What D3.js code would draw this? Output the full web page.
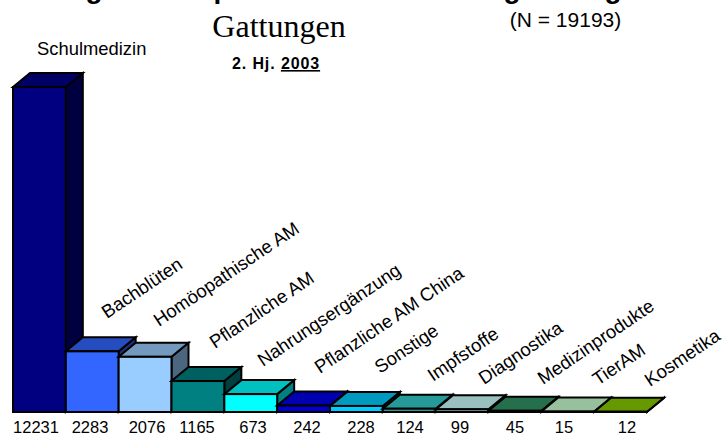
<!DOCTYPE html>
<html>
<head>
<meta charset="utf-8">
<script src="https://cdn.jsdelivr.net/npm/d3@7"></script>
<style>
html, body { margin: 0; padding: 0; background: #fff; overflow: hidden; }
text { font-family: "Liberation Sans", Arial, sans-serif; fill: #000; }
</style>
</head>
<body>
<script>
const categories = ["Schulmedizin", "Bachblüten", "Homöopathische AM", "Pflanzliche AM", "Nahrungsergänzung",
    "Pflanzliche AM China", "Sonstige", "Impfstoffe", "Diagnostika", "Medizinprodukte", "TierAM", "Kosmetika"];
const counts = [12231, 2283, 2076, 1165, 673, 242, 228, 124, 99, 45, 15, 12];
const frontColors = ["#000080", "#3366ff", "#99ccff", "#008080", "#00ffff", "#0000cc", "#00ccff", "#339999", "#99cccc", "#339966", "#99cc99", "#669900"];
const topColors = ["#000066", "#264dc0", "#7399bf", "#006060", "#00c0c0", "#0000b0", "#0099bf", "#269999", "#99bfbf", "#266f4c", "#99c09c", "#669900"];
const sideColors = ["#000040", "#1a3380", "#4d6680", "#004040", "#008080", "#000066", "#006680", "#1a4d4d", "#4d6666", "#1a4d33", "#4d664d", "#334d00"];

// Anfang der gedrehten Texte
const labelX = [37, 107, 159, 215, 263, 320, 380, 433, 484, 543, 598, 650];
const labelY = [55, 319, 327, 349, 367, 374, 374, 382, 385, 385, 386, 387];
const valueX = [36, 90, 147, 197, 253, 307, 361, 410, 460, 515, 564, 627];

// abgeschnittene Titelzeile am oberen Rand: nur die Unterlängen sind zu sehen
const clippedGlyphs = ["g", "p", "g", "g"];
const clippedX = [94, 222, 512, 613];

const svg = d3.select("body").append("svg").attr("width", 723).attr("height", 437);

const x = d3.scaleBand().domain(categories).range([13, 647]).paddingInner(0).paddingOuter(0);
const y = d3.scaleLinear().domain([0, 12231]).range([412, 87]);
const dx = 17, dy = -14;

categories.forEach((c, i) => {
    const x0 = x(c), x1 = x0 + x.bandwidth();
    const yTop = y(counts[i]), yBase = y(0);
    const g = svg.append("g").attr("stroke", "#000").attr("stroke-width", 2).attr("stroke-linejoin", "miter");
    // Seitenfläche, Deckel, Front
    g.append("path").attr("fill", sideColors[i])
        .attr("d", d3.line()([[x1, yTop], [x1 + dx, yTop + dy], [x1 + dx, yBase + dy], [x1, yBase]]) + "Z");
    g.append("path").attr("fill", topColors[i])
        .attr("d", d3.line()([[x0, yTop], [x0 + dx, yTop + dy], [x1 + dx, yTop + dy], [x1, yTop]]) + "Z");
    g.append("rect").attr("fill", frontColors[i])
        .attr("x", x0).attr("y", yTop).attr("width", x.bandwidth()).attr("height", yBase - yTop);
});

categories.forEach((c, i) => {
    const rot = i === 0 ? 0 : -34;
    svg.append("text")
        .attr("transform", `translate(${labelX[i]},${labelY[i]}) rotate(${rot})`)
        .attr("font-size", i === 0 ? 18.4 : 18.5)
        .text(c);
    svg.append("text")
        .attr("x", valueX[i]).attr("y", 433)
        .attr("text-anchor", "middle")
        .attr("font-size", 16.5)
        .text(counts[i]);
});

// Titel
clippedGlyphs.forEach((t, i) => {
    svg.append("text").attr("x", clippedX[i]).attr("y", -2).attr("text-anchor", "middle")
        .attr("font-size", 28).attr("font-weight", "bold").text(t);
});
svg.append("text").attr("x", 279).attr("y", 37).attr("text-anchor", "middle")
    .attr("font-size", 32).style("font-family", "'Liberation Serif', serif").text("Gattungen");
svg.append("text").attr("x", 565.5).attr("y", 27).attr("text-anchor", "middle")
    .attr("font-size", 21).text("(N = 19193)");
const sub = svg.append("text").attr("x", 276).attr("y", 69).attr("text-anchor", "middle")
    .attr("font-size", 16).attr("font-weight", "bold").attr("letter-spacing", 0.9);
sub.append("tspan").text("2. Hj. ");
sub.append("tspan").attr("text-decoration", "underline").text("2003");
</script>
</body>
</html>
